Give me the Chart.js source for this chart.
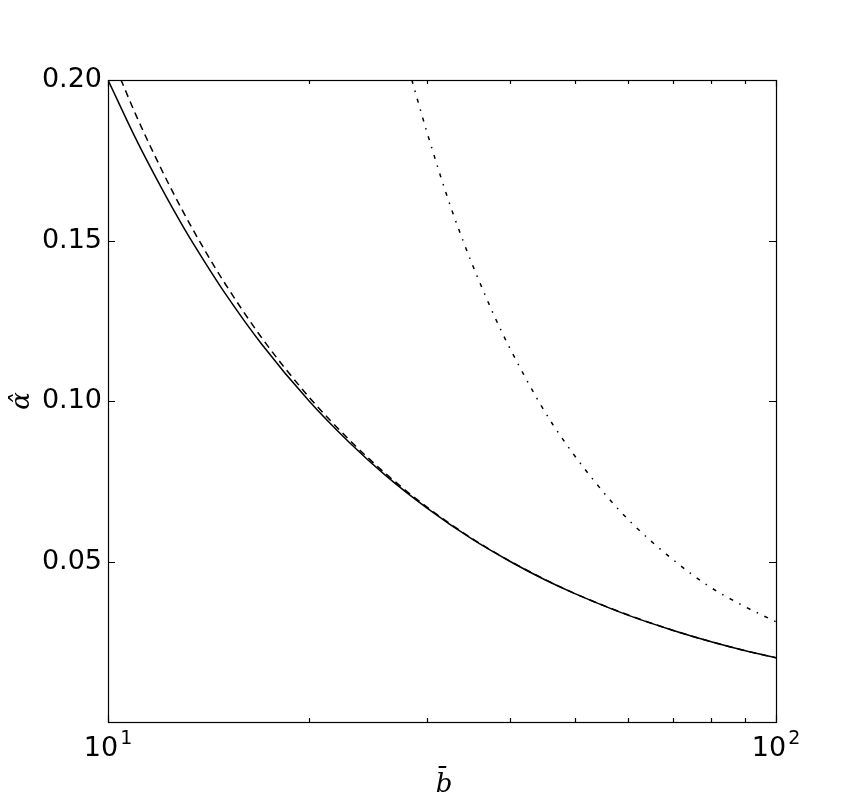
<!DOCTYPE html>
<html>
<head>
<meta charset="utf-8">
<script src="https://cdn.jsdelivr.net/npm/chart.js@4/dist/chart.umd.min.js"></script>
<style>
  html, body { margin: 0; padding: 0; background: #fff; }
  canvas { display: block; }
</style>
</head>
<body>
<canvas id="alphaChart" width="862" height="803"></canvas>
<script>
// values
const solidB = [10, 11, 12, 13, 14, 15, 17, 20, 23, 26, 30, 35, 40, 45, 50, 60, 70, 80, 90, 100];
const solidAlpha = [0.2000, 0.1818, 0.1667, 0.1538, 0.1429, 0.1333, 0.1176, 0.1000, 0.0870, 0.0769, 0.0667, 0.0571, 0.0500, 0.0444, 0.0400, 0.0333, 0.0286, 0.0250, 0.0222, 0.0200];

const dashedB = [10.45, 11, 12, 13, 14, 15, 17, 20, 23, 26, 30, 35, 40, 45, 50, 60, 70, 80, 90, 100];
const dashedAlpha = [0.2002, 0.1893, 0.1725, 0.1584, 0.1465, 0.1363, 0.1196, 0.1012, 0.0878, 0.0775, 0.0670, 0.0573, 0.0501, 0.0445, 0.0400, 0.0334, 0.0286, 0.0250, 0.0222, 0.0200];

const dashDotB = [28.5, 30, 32.9, 37.7, 42, 46.4, 55, 61, 70, 78.8, 88, 100];
const dashDotAlpha = [0.2000, 0.1840, 0.1580, 0.1274, 0.1079, 0.0925, 0.0719, 0.0617, 0.0507, 0.0427, 0.0369, 0.0312];

const yTicks = [0, 0.05, 0.10, 0.15, 0.20];
const xMajorTicks = [10, 100];
const xMinorTicks = [20, 30, 40, 50, 60, 70, 80, 90];
const xTickLabels = [['10', '1'], ['10', '2']];

function toPoints(xs, ys) {
    return xs.map((x, i) => ({ x: x, y: ys[i] }));
}

// inward ticks, frame, x tick labels with exponents and the axis titles
const framePlugin = {
    id: 'framePlugin',
    afterDraw(chart) {
        const ctx = chart.ctx;
        const area = chart.chartArea;
        const xs = chart.scales.x;
        const ys = chart.scales.y;
        ctx.save();
        ctx.strokeStyle = '#000';
        ctx.lineWidth = 1.2;

        ctx.beginPath();
        yTicks.forEach(v => {
            const py = Math.round(ys.getPixelForValue(v)) + 0.5;
            ctx.moveTo(area.left, py); ctx.lineTo(area.left + 7, py);
            ctx.moveTo(area.right, py); ctx.lineTo(area.right - 7, py);
        });
        xMajorTicks.forEach(v => {
            const px = Math.round(xs.getPixelForValue(v)) + 0.5;
            ctx.moveTo(px, area.bottom); ctx.lineTo(px, area.bottom - 7);
            ctx.moveTo(px, area.top); ctx.lineTo(px, area.top + 7);
        });
        xMinorTicks.forEach(v => {
            const px = Math.round(xs.getPixelForValue(v)) + 0.5;
            ctx.moveTo(px, area.bottom); ctx.lineTo(px, area.bottom - 4);
            ctx.moveTo(px, area.top); ctx.lineTo(px, area.top + 4);
        });
        ctx.stroke();

        ctx.strokeRect(area.left + 0.5, area.top + 0.5, area.right - area.left, area.bottom - area.top);

        // x tick labels 10^1, 10^2
        ctx.fillStyle = '#000';
        ctx.textBaseline = 'alphabetic';
        ctx.textAlign = 'left';
        xMajorTicks.forEach((v, i) => {
            const px = xs.getPixelForValue(v);
            const [base, exp] = xTickLabels[i];
            ctx.font = '27px "DejaVu Sans"';
            const wBase = ctx.measureText(base).width;
            ctx.font = '19px "DejaVu Sans"';
            const wExp = ctx.measureText(exp).width;
            const x0 = px - (wBase + 2 + wExp) / 2;
            ctx.font = '27px "DejaVu Sans"';
            ctx.fillText(base, x0, 756);
            ctx.font = '19px "DejaVu Sans"';
            ctx.fillText(exp, x0 + wBase + 2, 744);
        });

        // axis titles
        ctx.font = 'italic 26px "DejaVu Serif"';
        ctx.textAlign = 'center';
        ctx.fillText('b\u0304', (area.left + area.right) / 2 + 2, 792);

        ctx.save();
        ctx.translate(29, (area.top + area.bottom) / 2);
        ctx.rotate(-Math.PI / 2);
        ctx.fillText('\u03b1\u0302', 0, 0);
        ctx.restore();

        ctx.restore();
    }
};

const ctx = document.getElementById('alphaChart').getContext('2d');
new Chart(ctx, {
    type: 'line',
    data: {
        datasets: [
            {
                data: toPoints(solidB, solidAlpha),
                borderColor: '#000',
                borderWidth: 1.5,
                pointRadius: 0,
                cubicInterpolationMode: 'monotone',
                fill: false
            },
            {
                data: toPoints(dashedB, dashedAlpha),
                borderColor: '#000',
                borderWidth: 1.5,
                borderDash: [7, 5],
                pointRadius: 0,
                cubicInterpolationMode: 'monotone',
                fill: false
            },
            {
                data: toPoints(dashDotB, dashDotAlpha),
                borderColor: '#000',
                borderWidth: 1.5,
                borderDash: [4, 7, 1.5, 7],
                pointRadius: 0,
                cubicInterpolationMode: 'monotone',
                fill: false
            }
        ]
    },
    options: {
        responsive: false,
        animation: false,
        events: [],
        layout: { padding: { left: 0, top: 80, right: 86, bottom: 0 } },
        plugins: {
            legend: { display: false },
            tooltip: { enabled: false }
        },
        scales: {
            x: {
                type: 'logarithmic',
                min: 10,
                max: 100,
                grid: { display: false },
                border: { display: false },
                ticks: { display: false },
                afterFit(scale) { scale.height = 81; }
            },
            y: {
                type: 'linear',
                min: 0,
                max: 0.2,
                grid: { display: false, drawTicks: false },
                border: { display: false },
                ticks: {
                    stepSize: 0.05,
                    padding: 6,
                    color: '#000',
                    font: { family: 'DejaVu Sans', size: 27 },
                    callback: v => (Math.abs(v) < 1e-9 ? '' : v.toFixed(2))
                },
                afterFit(scale) { scale.width = 108; }
            }
        }
    },
    plugins: [framePlugin]
});
</script>
</body>
</html>
